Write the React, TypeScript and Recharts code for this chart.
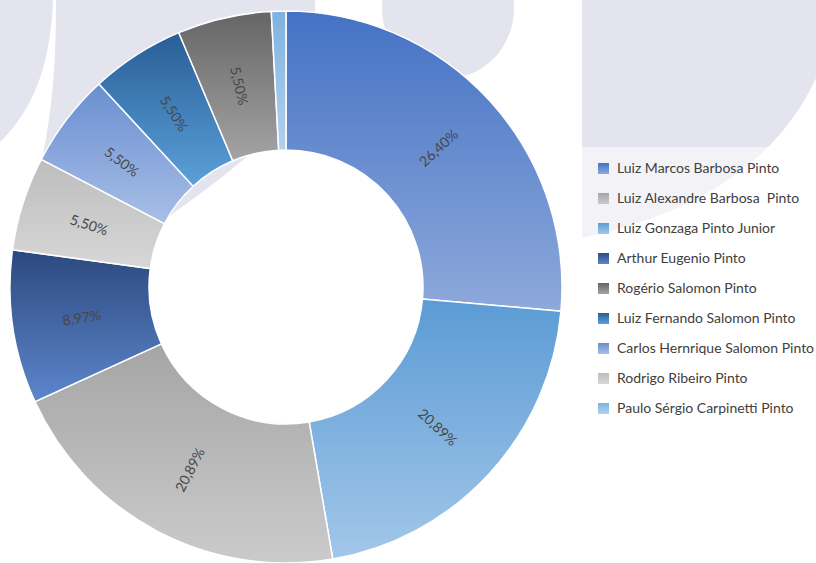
import { Cell, Pie, PieChart } from 'recharts'

// pie order, clockwise from 12 o'clock
const sliceNames = [
  'Luiz Marcos Barbosa Pinto',
  'Luiz Gonzaga Pinto Junior',
  'Luiz Alexandre Barbosa  Pinto',
  'Arthur Eugenio Pinto',
  'Rodrigo Ribeiro Pinto',
  'Carlos Hernrique Salomon Pinto',
  'Luiz Fernando Salomon Pinto',
  'Rogério Salomon Pinto',
  'Paulo Sérgio Carpinetti Pinto',
]
const sliceValues = [26.4, 20.89, 20.89, 8.97, 5.5, 5.5, 5.5, 5.5, 0.85]

const legendNames = [
  'Luiz Marcos Barbosa Pinto',
  'Luiz Alexandre Barbosa  Pinto',
  'Luiz Gonzaga Pinto Junior',
  'Arthur Eugenio Pinto',
  'Rogério Salomon Pinto',
  'Luiz Fernando Salomon Pinto',
  'Carlos Hernrique Salomon Pinto',
  'Rodrigo Ribeiro Pinto',
  'Paulo Sérgio Carpinetti Pinto',
]

// top / bottom colour of each gradient, keyed by name
const gradients: Record<string, [string, string]> = {
  'Luiz Marcos Barbosa Pinto': ['#4472C4', '#8EA9DB'],
  'Luiz Alexandre Barbosa  Pinto': ['#A5A5A5', '#CBCBCB'],
  'Luiz Gonzaga Pinto Junior': ['#5B9BD5', '#A3C7E9'],
  'Arthur Eugenio Pinto': ['#2B497E', '#5E86CC'],
  'Rogério Salomon Pinto': ['#656565', '#A4A4A4'],
  'Luiz Fernando Salomon Pinto': ['#295E96', '#5BA0DA'],
  'Carlos Hernrique Salomon Pinto': ['#698ED0', '#A8BFE7'],
  'Rodrigo Ribeiro Pinto': ['#BDBDBD', '#D7D7D7'],
  'Paulo Sérgio Carpinetti Pinto': ['#7FB2E0', '#B2D1EE'],
}

const chartData = sliceNames.map((name, i) => ({ name, value: sliceValues[i] }))
const gradId = (name: string) => 'g' + legendNames.indexOf(name)

const RAD = Math.PI / 180
const fmt = (v: number) => v.toFixed(2).replace('.', ',') + '%'

const renderLabel = (props: any) => {
  const { cx, cy, midAngle, innerRadius, outerRadius, value } = props
  if (value < 2) return null
  const r = (innerRadius + outerRadius) / 2
  const x = cx + r * Math.cos(-midAngle * RAD)
  const y = cy + r * Math.sin(-midAngle * RAD)
  let theta = (90 - midAngle) % 360
  if (theta < 0) theta += 360
  const rot = theta < 180 ? theta - 90 : theta - 270
  return (
    <text
      x={x}
      y={y}
      transform={`rotate(${rot} ${x} ${y})`}
      textAnchor="middle"
      dominantBaseline="central"
      fill="#474747"
      fontSize={14}
      fontFamily="Lato, 'Open Sans', sans-serif"
    >
      {fmt(value)}
    </text>
  )
}

function Background() {
  const lav = '#E4E4EE'
  return (
    <svg width={816} height={563} style={{ position: 'absolute', left: 0, top: 0 }}>
      <defs>
        {legendNames.map((name, i) => (
          <linearGradient key={name} id={'g' + i} x1="0" y1="0" x2="0" y2="1">
            <stop offset="0%" stopColor={gradients[name][0]} />
            <stop offset="100%" stopColor={gradients[name][1]} />
          </linearGradient>
        ))}
      </defs>
      <path d="M0 0 H53 C51 55 38 105 0 142 Z" fill={lav} />
      <path
        d="M56 0 H315 C318 60 292 118 252 152 C215 185 190 200 162 222 L42 160 C52 110 56 70 56 0 Z"
        fill={lav}
      />
      <ellipse cx={448} cy={8} rx={66} ry={70} fill={lav} />
      <path d="M582 0 H816 V78 Q760 200 582 238 Z" fill={lav} />
      <rect x={582} y={147} width={234} height={280} fill="#ffffff" opacity={0.55} />
    </svg>
  )
}

export default function App() {
  return (
    <div
      style={{
        position: 'absolute',
        left: 0,
        top: 0,
        width: 816,
        height: 563,
        background: '#ffffff',
        overflow: 'hidden',
      }}
    >
      <Background />
      <div style={{ position: 'absolute', left: 0, top: 0 }}>
        <PieChart width={816} height={563} margin={{ top: 0, right: 0, bottom: 0, left: 0 }}>
          <Pie
            data={chartData}
            dataKey="value"
            nameKey="name"
            cx={286}
            cy={287}
            innerRadius={137}
            outerRadius={276}
            startAngle={90}
            endAngle={-270}
            stroke="#ffffff"
            strokeWidth={1.5}
            label={renderLabel}
            labelLine={false}
            isAnimationActive={false}
          >
            {chartData.map((d) => (
              <Cell key={d.name} fill={`url(#${gradId(d.name)})`} />
            ))}
          </Pie>
        </PieChart>
      </div>
      <div
        style={{
          position: 'absolute',
          left: 598,
          top: 153,
          fontFamily: "Lato, 'Open Sans', sans-serif",
          fontSize: 14,
          color: '#404040',
        }}
      >
        {legendNames.map((name) => (
          <div key={name} style={{ display: 'flex', alignItems: 'center', height: 30.1 }}>
            <svg width={11} height={11} style={{ marginRight: 8, flex: 'none' }}>
              <rect x={0} y={0} width={11} height={11} fill={`url(#${gradId(name)})`} />
            </svg>
            <span style={{ whiteSpace: 'pre', position: 'relative', top: -1 }}>{name}</span>
          </div>
        ))}
      </div>
    </div>
  )
}
